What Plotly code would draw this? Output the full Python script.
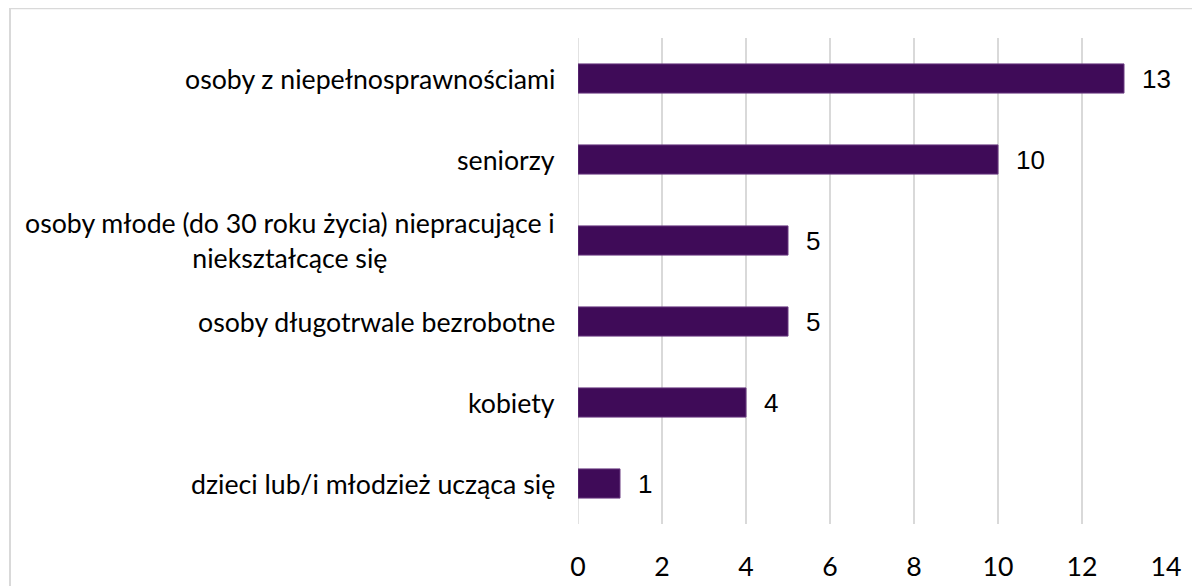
import plotly.graph_objects as go

categories = [
    "osoby z niepełnosprawnościami",
    "seniorzy",
    "osoby młode (do 30 roku życia) niepracujące i<br>niekształcące się",
    "osoby długotrwale bezrobotne",
    "kobiety",
    "dzieci lub/i młodzież ucząca się",
]
values = [13, 10, 5, 5, 4, 1]
x_ticks = [0, 2, 4, 6, 8, 10, 12, 14]

fig = go.Figure()
fig.add_trace(go.Bar(
    x=values, y=categories, orientation="h",
    marker=dict(color="#3f0b58", line=dict(color="#6a3a80", width=1)),
    width=0.36, hoverinfo="skip",
))

annotations = []
for c, v in zip(categories, values):
    annotations.append(dict(
        x=v, y=c, xref="x", yref="y", text=str(v), showarrow=False,
        xanchor="left", yanchor="middle", xshift=16,
        font=dict(family="Liberation Sans, Arial", size=26, color="#000000"),
    ))
    annotations.append(dict(
        x=0, y=c, xref="paper", yref="y", text=c, showarrow=False,
        xanchor="right", yanchor="middle", xshift=-21, align="center",
        font=dict(family="Lato", size=26.7, color="#000000"),
    ))

fig.update_layout(
    width=1200, height=586,
    margin=dict(l=570, r=42, t=30, b=67),
    paper_bgcolor="white", plot_bgcolor="white",
    showlegend=False,
    annotations=annotations,
    shapes=[dict(type="rect", xref="paper", yref="paper",
                 x0=-0.966, x1=1.08, y0=-0.2, y1=1.0613,
                 line=dict(color="#d9d9d9", width=2), fillcolor="rgba(0,0,0,0)",
                 layer="below")],
    xaxis=dict(range=[0, 14], tickvals=x_ticks, showgrid=True,
               gridcolor="#d9d9d9", gridwidth=1.5, zeroline=False,
               showline=False, ticks="", ticklabelstandoff=24,
               tickfont=dict(family="Lato", size=26.7, color="#000000")),
    yaxis=dict(autorange="reversed", showticklabels=False, showgrid=False,
               zeroline=False, showline=False, ticks=""),
)
fig.add_vline(x=0, line=dict(color="#d9d9d9", width=1.5), layer="below")

fig.write_html("out.html")
